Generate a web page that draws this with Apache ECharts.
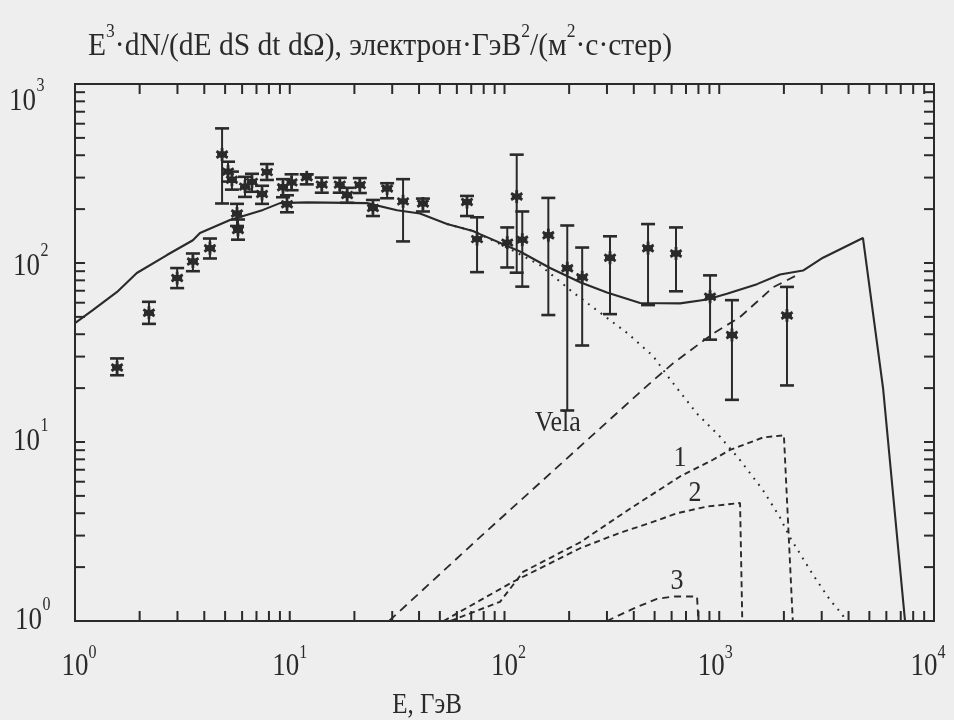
<!DOCTYPE html>
<html><head><meta charset="utf-8">
<script src="https://cdn.jsdelivr.net/npm/echarts@6/dist/echarts.min.js"></script>
<style>html,body{margin:0;padding:0;background:#eeeeee}#c{width:954px;height:720px}</style>
</head><body><div id="c"></div>
<script>
// ---- data (E in GeV, flux E^3 dN/(dE dS dt dΩ)) ----
const totalE = [1, 1.21, 1.57, 1.94, 2.68, 3.54, 3.82, 5.27, 7.51, 9.01, 12.0, 22.9, 31.6, 40.4, 54.0, 71.3, 76.9, 118, 163, 225, 300, 428, 657, 877, 1086, 1499, 1918, 2455, 3041, 4668, 5794, 7330];
const totalF = [46.2, 54.6, 68.9, 87.9, 110.8, 134, 147, 174, 198, 216, 218, 216, 197, 189, 165, 151, 145, 116, 93.8, 78, 68.4, 59.8, 59.5, 62.5, 67.3, 76.2, 86.3, 90.7, 107, 138, 19.9, 1];

const backgroundE = [54, 71.3, 103, 146, 208, 278, 372, 492, 590, 788, 1008, 1250, 1600, 1918, 2135, 2734, 3280, 3733, 3900];
const backgroundF = [165, 151, 122, 97.5, 68.7, 52.9, 40.7, 30.2, 22.4, 14.4, 10.7, 7.93, 5.37, 3.79, 2.93, 1.81, 1.31, 1.09, 1.0];

const velaE = [29, 76.9, 461, 609, 935, 1250, 1780, 2377];
const velaF = [1, 2.94, 20.6, 27.5, 40.3, 49.9, 73.1, 87.3];

const curve1E = [56, 95.3, 122, 225, 384, 657, 935, 1122, 1600, 2000, 2200];
const curve1F = [1, 1.28, 1.88, 2.75, 4.24, 6.42, 7.96, 9.03, 10.6, 10.9, 1];

const curve2E = [52, 110, 225, 345, 476, 636, 877, 1250, 1280];
const curve2F = [1, 1.66, 2.55, 3.11, 3.53, 4.00, 4.36, 4.56, 1];

const curve3E = [300, 396, 513, 609, 788, 800];
const curve3F = [1.0, 1.17, 1.33, 1.37, 1.37, 1];

const ptE  = [1.57, 2.21, 2.99, 3.54, 4.25, 4.84, 5.16, 5.38, 5.68, 5.74, 6.19, 6.67, 7.43, 7.83, 9.30, 9.71, 10.2, 12.0, 14.1, 17.1, 18.5, 21.2, 24.4, 28.4, 33.7, 41.7, 66.9, 74.5, 103, 114, 121, 160, 196, 230, 310, 466, 629, 906, 1146, 2067];
const ptF  = [26.1, 52.7, 82.4, 102, 121, 404, 324, 292, 189, 153, 267, 284, 243, 322, 265, 213, 282, 301, 274, 274, 240, 273, 203, 261, 221, 215, 219, 136, 130, 235, 135, 143, 93.5, 83.2, 107, 121, 113, 64.8, 39.6, 50.9];
const ptLo = [23.6, 45.7, 72.4, 90, 106, 215, 285, 257, 161, 135, 234, 250, 214, 291, 233, 192, 255, 275, 247, 247, 217, 246, 183, 230, 132, 194, 183, 88.9, 94.4, 88.3, 73.8, 51.2, 15.0, 34.6, 51.8, 58.2, 69.5, 37.3, 17.2, 20.7];
const ptHi = [29.3, 60.7, 93.7, 113, 137, 565, 368, 324, 214, 175, 303, 315, 270, 357, 294, 239, 313, 313, 300, 299, 263, 298, 225, 279, 294, 229, 237, 180, 158, 403, 194, 231, 162, 122, 141, 165, 158, 85.3, 62.0, 73.5];

const curveNames = ['Vela', '1', '2', '3'];
const curveNameE = [177, 657, 771, 636];
const curveNameF = [12.8, 8.1, 5.16, 1.67];

const xTicks = [2,3,4,5,6,7,8,9,10,20,30,40,50,60,70,80,90,100,200,300,400,500,600,700,800,900,1000,2000,3000,4000,5000,6000,7000,8000,9000];
const yTicks = [2,3,4,5,6,7,8,9,10,20,30,40,50,60,70,80,90,100,200,300,400,500,600,700,800,900];
const xLabelValues = [1, 10, 100, 1000, 10000];
const xLabelExps = ['0', '1', '2', '3', '4'];
const yLabelValues = [1, 10, 100, 1000];
const yLabelExps = ['0', '1', '2', '3'];
const titleParts = ['E', '3', '·dN/(dE dS dt dΩ), электрон·ГэВ', '2', '/(м', '2', '·с·стер)'];
const titleIsSup = [false, true, false, true, false, true, false];
const xAxisTitle = 'E, ГэВ';

// ---- layout / style ----
const INK = '#2a2a2a';
const FONT = '"Liberation Serif", "DejaVu Serif", serif';
const X_MIN = 1, X_MAX = 10000, Y_MIN = 1, Y_MAX = 1000, TICK = 10;
const SY = 1.15;                       // scan text is vertically stretched
const xLabelDx = [4, 0, 4, -4, -6];
const yLabelDy = [0, 0, 4, 18];
const yLabelRight = [42, 40, 40, 36];
const pairs = (xs, ys) => xs.map((x, i) => [x, ys[i]]);

const mctx = document.createElement('canvas').getContext('2d');
function tw(text, size) { mctx.font = size + 'px ' + FONT; return mctx.measureText(text).width; }
function txt(text, x, y, size, align, extra) {
  return Object.assign({
    type: 'text', x: x, y: y, scaleY: SY, silent: true, z: 20,
    style: {text: text, font: size + 'px ' + FONT, fill: INK,
            align: align, verticalAlign: 'middle', textAlign: align, textVerticalAlign: 'middle'}
  }, extra || {});
}

function lineSeries(name, xs, ys, dash, width) {
  return {
    name, type: 'line', data: pairs(xs, ys), showSymbol: false, symbol: 'none',
    lineStyle: {color: INK, width: width || 1.8, type: dash}, silent: true, z: 3, animation: false
  };
}

const option = {
  backgroundColor: '#eeeeee',
  animation: false,
  grid: {left: 75, right: 20, top: 84, bottom: 99, show: true, borderColor: INK, borderWidth: 2, backgroundColor: 'transparent'},
  xAxis: {
    type: 'log', logBase: 10, min: X_MIN, max: X_MAX,
    axisLine: {show: false}, axisTick: {show: false}, splitLine: {show: false}, axisLabel: {show: false}
  },
  yAxis: {
    type: 'log', logBase: 10, min: Y_MIN, max: Y_MAX,
    axisLine: {show: false}, axisTick: {show: false}, splitLine: {show: false}, axisLabel: {show: false}
  },
  series: [
    {
      type: 'custom', name: 'xticks', silent: true, z: 6, clip: false,
      data: xTicks.map(v => [v, Y_MIN]),
      renderItem: (params, api) => {
        const v = api.value(0);
        const b = api.coord([v, Y_MIN]), t = api.coord([v, Y_MAX]);
        const st = {stroke: INK, lineWidth: 2};
        return {type: 'group', children: [
          {type: 'line', shape: {x1: b[0], y1: b[1], x2: b[0], y2: b[1] - TICK}, style: st},
          {type: 'line', shape: {x1: t[0], y1: t[1], x2: t[0], y2: t[1] + TICK}, style: st}
        ]};
      }
    },
    {
      type: 'custom', name: 'yticks', silent: true, z: 6, clip: false,
      data: yTicks.map(v => [X_MIN, v]),
      renderItem: (params, api) => {
        const v = api.value(1);
        const l = api.coord([X_MIN, v]), r = api.coord([X_MAX, v]);
        const st = {stroke: INK, lineWidth: 2};
        return {type: 'group', children: [
          {type: 'line', shape: {x1: l[0], y1: l[1], x2: l[0] + TICK, y2: l[1]}, style: st},
          {type: 'line', shape: {x1: r[0], y1: r[1], x2: r[0] - TICK, y2: r[1]}, style: st}
        ]};
      }
    },
    lineSeries('background', backgroundE, backgroundF, [1.8, 6], 2),
    lineSeries('Vela', velaE, velaF, [9, 6], 1.8),
    lineSeries('1', curve1E, curve1F, [6, 4], 1.9),
    lineSeries('2', curve2E, curve2F, [6, 4], 1.9),
    lineSeries('3', curve3E, curve3F, [7, 5], 1.9),
    lineSeries('total', totalE, totalF, 'solid', 2.1),
    {
      type: 'custom', name: 'data', silent: true, z: 5,
      data: ptE.map((e, i) => [e, ptF[i], ptLo[i], ptHi[i]]),
      encode: {x: 0, y: 1},
      renderItem: (params, api) => {
        const e = api.value(0);
        const p = api.coord([e, api.value(1)]);
        const lo = api.coord([e, api.value(2)]);
        const hi = api.coord([e, api.value(3)]);
        const cw = 7, r = 6.5;
        const ch = [
          {type: 'line', shape: {x1: lo[0], y1: lo[1], x2: hi[0], y2: hi[1]}, style: {stroke: INK, lineWidth: 2}},
          {type: 'line', shape: {x1: lo[0] - cw, y1: lo[1], x2: lo[0] + cw, y2: lo[1]}, style: {stroke: INK, lineWidth: 2.6}},
          {type: 'line', shape: {x1: hi[0] - cw, y1: hi[1], x2: hi[0] + cw, y2: hi[1]}, style: {stroke: INK, lineWidth: 2.6}},
          {type: 'line', shape: {x1: p[0] - 5, y1: p[1], x2: p[0] + 5, y2: p[1]}, style: {stroke: INK, lineWidth: 2.6}}
        ];
        for (let k = 0; k < 3; k++) {
          const a = Math.PI / 2 + k * Math.PI / 3;
          ch.push({type: 'line', shape: {x1: p[0] - r * Math.cos(a), y1: p[1] - r * Math.sin(a), x2: p[0] + r * Math.cos(a), y2: p[1] + r * Math.sin(a)}, style: {stroke: INK, lineWidth: 2.8}});
        }
        ch.push({type: 'circle', shape: {cx: p[0], cy: p[1], r: 3.4}, style: {fill: INK}});
        return {type: 'group', children: ch};
      }
    }
  ]
};
const chart = echarts.init(document.getElementById('c'));
chart.setOption(option);

// ---- texts placed through the axes' own scales ----
const toPx = (x, y) => chart.convertToPixel({xAxisIndex: 0, yAxisIndex: 0}, [x, y]);
const g = [];
// x tick labels
xLabelValues.forEach((v, i) => {
  const p = toPx(v, Y_MIN);
  const cx = p[0] + xLabelDx[i];
  const wb = tw('10', 27), ws = tw(xLabelExps[i], 16);
  const left = cx - (wb + ws) / 2;
  g.push(txt('10', left, p[1] + 46, 27, 'left'));
  g.push(txt(xLabelExps[i], left + wb, p[1] + 32, 16, 'left'));
});
// y tick labels
yLabelValues.forEach((v, i) => {
  const p = toPx(X_MIN, v);
  const cy = p[1] + yLabelDy[i];
  const right = yLabelRight[i];
  g.push(txt('10', right, cy, 27, 'right'));
  g.push(txt(yLabelExps[i], right + 0.5, cy - 15.5, 16, 'left'));
});
// curve names
curveNames.forEach((n, i) => {
  const p = toPx(curveNameE[i], curveNameF[i]);
  g.push(txt(n, p[0], p[1], 26, 'center'));
});
// title
(function () {
  const MAIN = 27, SUP = 16;
  let off = 0;
  const kids = [];
  titleParts.forEach((t, i) => {
    const s = titleIsSup[i] ? SUP : MAIN;
    kids.push({type: 'text', x: off, y: titleIsSup[i] ? -13 : 0, silent: true,
      style: {text: t, font: s + 'px ' + FONT, fill: INK, align: 'left', verticalAlign: 'middle', textAlign: 'left', textVerticalAlign: 'middle'}});
    off += tw(t, s);
  });
  g.push({type: 'group', x: 88, y: 47, scaleX: 584 / off, scaleY: SY, silent: true, z: 20, children: kids});
})();
// x axis title
g.push(txt(xAxisTitle, 427, 705, 25, 'center'));

chart.setOption({graphic: g});
</script>
</body></html>
